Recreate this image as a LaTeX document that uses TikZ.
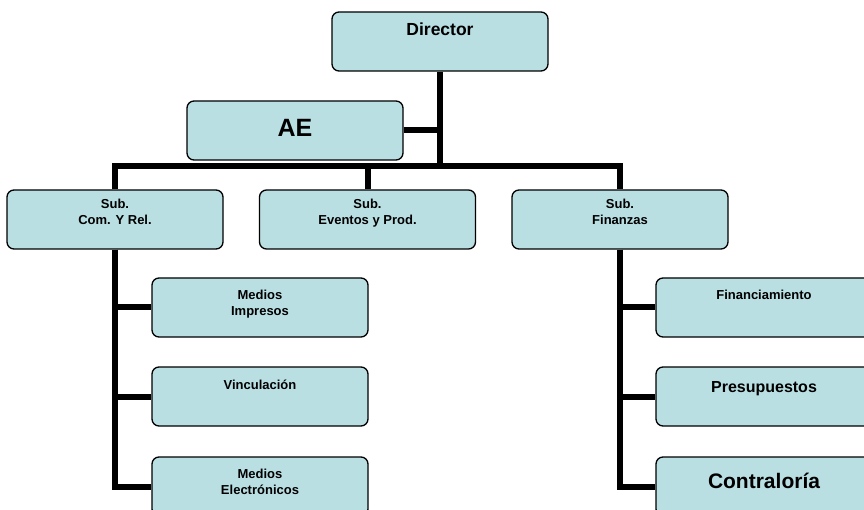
\documentclass[tikz,border=0pt]{standalone}
\usepackage{fontspec}
\setmainfont{Liberation Sans}
\definecolor{celeste}{RGB}{185,223,227}

\begin{document}
\begin{tikzpicture}[x=1pt,y=-1pt,
  caja/.style={draw,line width=1.3pt,fill=celeste,rounded corners=7pt,
    minimum width=216pt,minimum height=59pt,inner sep=0pt,align=center,
    font=\bfseries\fontsize{13}{16}\selectfont},
  linea/.style={line width=6pt,line join=miter}]

\useasboundingbox (0,0) rectangle (864,510);
\clip (0,0) rectangle (864,510);

\node[caja,font=\bfseries\fontsize{17.5}{20}\selectfont,text height=24pt,text depth=35pt] (dir) at (440,41.5) {Director};
\node[caja,font=\bfseries\fontsize{25}{28}\selectfont,text height=36pt,text depth=23pt] (ae) at (295,130.5) {AE};

\node[caja,text height=35pt,text depth=24pt] (com) at (115,219.5) {Sub.\\Com. Y Rel.};
\node[caja,text height=35pt,text depth=24pt] (ev) at (367.5,219.5) {Sub.\\Eventos y Prod.};
\node[caja,text height=35pt,text depth=24pt] (fin) at (620,219.5) {Sub.\\Finanzas};

\node[caja,text height=38pt,text depth=21pt] (mi) at (260,307.5) {Medios\\Impresos};
\node[caja,text height=22pt,text depth=37pt] (vi) at (260,396.5) {Vinculación};
\node[caja,text height=37pt,text depth=22pt] (me) at (260,486.5) {Medios\\Electrónicos};

\node[caja,text height=22pt,text depth=37pt] (fi) at (764,307.5) {Financiamiento};
\node[caja,font=\bfseries\fontsize{16}{19}\selectfont,text height=25pt,text depth=34pt] (pr) at (764,396.5) {Presupuestos};
\node[caja,font=\bfseries\fontsize{21}{24}\selectfont,text height=31pt,text depth=28pt] (co) at (764,486.5) {Contraloría};

\coordinate (bar) at (440,166);

\draw[linea] (dir.south) -- (bar);
\draw[linea] (ae.east) -- (ae.east -| bar);
\draw[linea] (com.north) |- (bar) -| (fin.north);
\draw[linea] (ev.north) -- (ev.north |- bar);

\draw[linea] (com.south) |- (mi.west);
\draw[linea] (com.south) |- (vi.west);
\draw[linea] (com.south) |- (me.west);

\draw[linea] (fin.south) |- (fi.west);
\draw[linea] (fin.south) |- (pr.west);
\draw[linea] (fin.south) |- (co.west);

\end{tikzpicture}
\end{document}
